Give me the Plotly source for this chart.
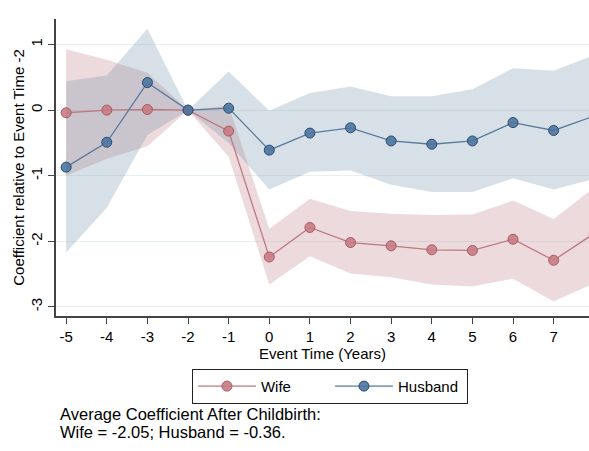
import plotly.graph_objects as go

event_time = [-5, -4, -3, -2, -1, 0, 1, 2, 3, 4, 5, 6, 7, 8]

wife_coef = [-0.04, 0.00, 0.01, 0.0, -0.32, -2.24, -1.79, -2.02, -2.07, -2.13, -2.14, -1.97, -2.29, -1.88]
wife_hi = [0.93, 0.77, 0.57, 0.0, 0.07, -1.81, -1.35, -1.54, -1.58, -1.60, -1.59, -1.38, -1.66, -1.18]
wife_lo = [-1.00, -0.74, -0.55, 0.0, -0.71, -2.66, -2.23, -2.49, -2.55, -2.66, -2.69, -2.57, -2.92, -2.64]

husb_coef = [-0.87, -0.49, 0.42, 0.0, 0.03, -0.61, -0.35, -0.27, -0.47, -0.52, -0.47, -0.19, -0.31, -0.09]
husb_hi = [0.44, 0.53, 1.24, 0.0, 0.59, -0.01, 0.26, 0.36, 0.21, 0.21, 0.32, 0.64, 0.60, 0.84]
husb_lo = [-2.17, -1.49, -0.38, 0.0, -0.50, -1.21, -0.94, -0.92, -1.14, -1.25, -1.25, -1.04, -1.21, -1.05]

x_ticks = [-5, -4, -3, -2, -1, 0, 1, 2, 3, 4, 5, 6, 7]
x_ticktext = ["-5", "-4", "-3", "-2", "-1", "0", "1", "2", "3", "4", "5", "6", "7"]
y_ticks = [-3, -2, -1, 0, 1]
y_ticktext = ["-3", "-2", "-1", "0", "1"]

series_names = ["Wife", "Husband"]
note_lines = ["Average Coefficient After Childbirth:", "Wife = -2.05; Husband = -0.36."]

FONT = "Liberation Sans, Arial, Helvetica, sans-serif"
wife_fill = "rgba(180,100,110,0.24)"
husb_fill = "rgba(100,130,160,0.25)"
wife_line = "rgb(190,120,128)"
wife_marker = "rgba(200,124,132,0.9)"
wife_edge = "rgb(168,90,100)"
husb_line = "rgb(88,122,158)"
husb_marker = "rgba(78,118,160,0.9)"
husb_edge = "rgb(40,75,110)"

fig = go.Figure()

# confidence bands
for lo, hi, fc in [(wife_lo, wife_hi, wife_fill), (husb_lo, husb_hi, husb_fill)]:
    fig.add_trace(go.Scatter(x=event_time, y=lo, mode="lines", line=dict(width=0),
                             showlegend=False, hoverinfo="skip"))
    fig.add_trace(go.Scatter(x=event_time, y=hi, mode="lines", line=dict(width=0),
                             fill="tonexty", fillcolor=fc, showlegend=False, hoverinfo="skip"))

fig.add_trace(go.Scatter(x=event_time, y=wife_coef, mode="lines+markers", name=series_names[0],
                         line=dict(color=wife_line, width=1.3),
                         marker=dict(size=10, color=wife_marker, line=dict(color=wife_edge, width=1))))
fig.add_trace(go.Scatter(x=event_time, y=husb_coef, mode="lines+markers", name=series_names[1],
                         line=dict(color=husb_line, width=1.3),
                         marker=dict(size=10, color=husb_marker, line=dict(color=husb_edge, width=1))))

fig.update_layout(
    width=589, height=451,
    margin=dict(l=56, r=0, t=19, b=135),
    paper_bgcolor="white", plot_bgcolor="white",
    font=dict(family=FONT, size=15, color="black"),
    showlegend=True,
    legend=dict(orientation="h", x=0.514, xanchor="center", y=-0.178, yanchor="top",
                bordercolor="#222", borderwidth=1, font=dict(size=15),
                itemwidth=58, entrywidth=64, tracegroupgap=0, bgcolor="white", traceorder="normal"),
)

fig.update_xaxes(range=[-5.25, 7.87], tickvals=x_ticks, ticktext=x_ticktext, ticks="outside", ticklen=6,
                 tickcolor="#444", showline=True, linecolor="#444", linewidth=1.5,
                 showgrid=False, zeroline=False, tickfont=dict(size=15),
                 title=dict(text="Event Time (Years)", font=dict(size=15), standoff=2))
fig.update_yaxes(range=[-3.14, 1.39], tickvals=y_ticks, ticktext=y_ticktext, ticks="outside", ticklen=6,
                 tickcolor="#444", showline=True, linecolor="#444", linewidth=1.5,
                 showgrid=True, gridcolor="#e6f0f1", gridwidth=1.3, zeroline=False,
                 tickangle=-90, tickfont=dict(size=15),
                 title=dict(text="Coefficient relative to Event Time -2", font=dict(size=15), standoff=0))

for i, line in enumerate(note_lines):
    fig.add_annotation(text=line, xref="paper", yref="paper", x=0.006, y=[-0.329, -0.3913][i],
                       xanchor="left", yanchor="middle", showarrow=False, borderpad=0,
                       font=dict(size=16.5, family=FONT, color="black"))

fig.write_html("out.html")
